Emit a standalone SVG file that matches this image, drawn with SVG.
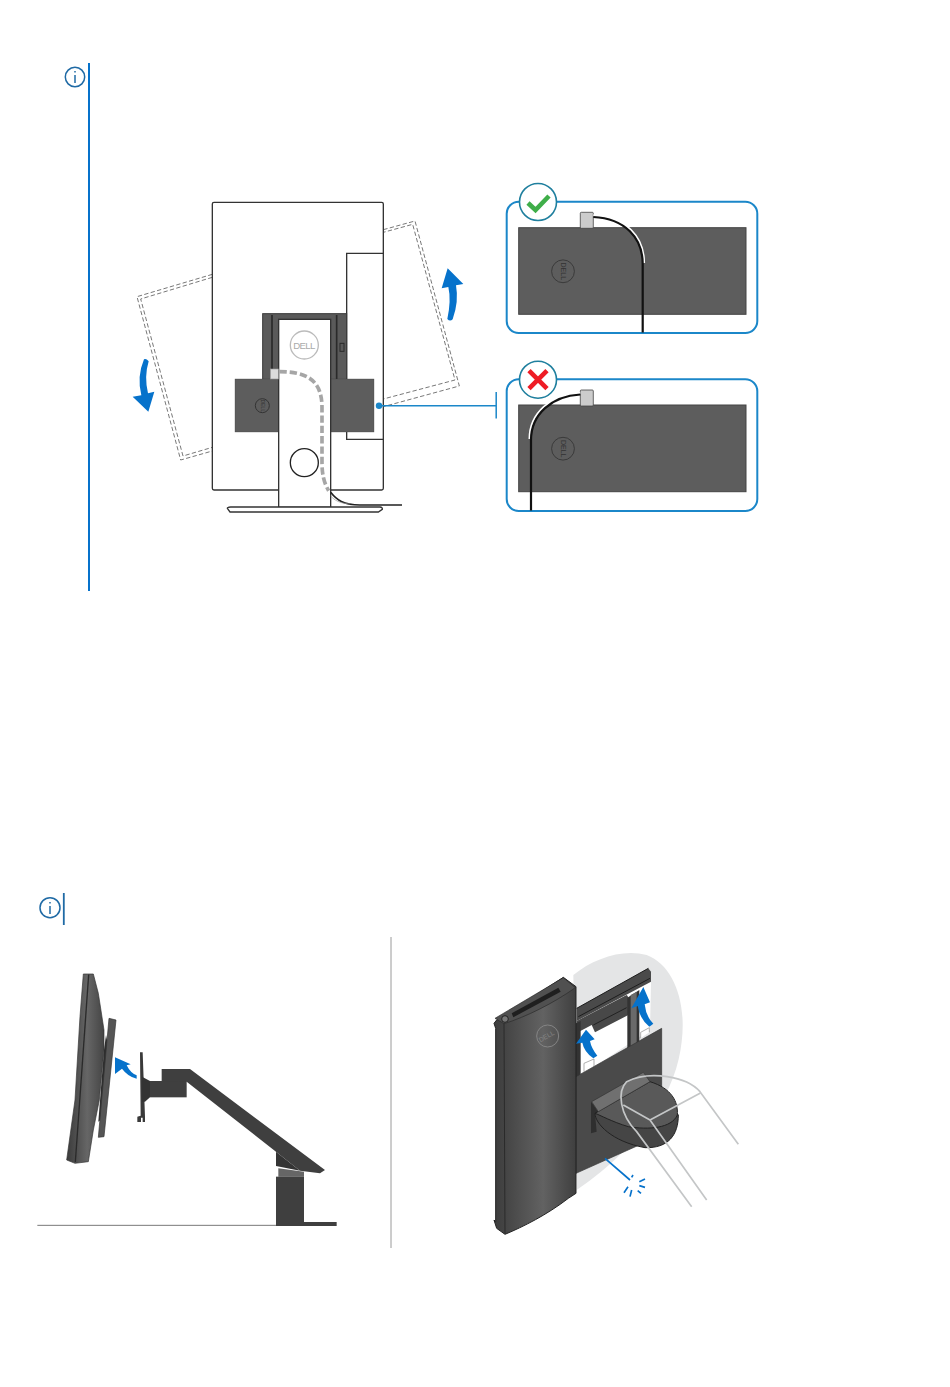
<svg xmlns="http://www.w3.org/2000/svg" width="950" height="1387" viewBox="0 0 950 1387">
<style>
.note{fill:none;stroke:#0672cb;stroke-width:2}
.ic{fill:none;stroke:#1f6aa5;stroke-width:1.5}
.dash{fill:none;stroke:#777;stroke-width:3;stroke-dasharray:13 7}
.out{fill:#fff;stroke:#333;stroke-width:4}
.dark{fill:#5d5d5d;stroke:#444;stroke-width:1}
.panel{fill:#fff;stroke:#1b87c9;stroke-width:2}
.plug{fill:#ccc;stroke:#444;stroke-width:.8}
.cw{fill:none;stroke:#fff;stroke-width:2.2}
.cb{fill:none;stroke:#111;stroke-width:2.2}
.blue{fill:#0672cb}
.bl{fill:none;stroke:#0672cb}
.logo{font-family:"Liberation Sans",Arial,sans-serif;font-weight:400;text-anchor:middle}
.ar{fill:#3f3f3f}
.hand{fill:none;stroke:#c4c6c7;stroke-width:5}
</style>
<defs>
<linearGradient id="mon" x1="0" x2="1" y1="0" y2="0"><stop offset="0" stop-color="#3b3b3b"/><stop offset=".55" stop-color="#666"/><stop offset="1" stop-color="#444"/></linearGradient>
<linearGradient id="pan" x1="0" x2="1" y1="0" y2="0"><stop offset="0" stop-color="#3c3c3c"/><stop offset=".6" stop-color="#626262"/><stop offset="1" stop-color="#3f3f3f"/></linearGradient>
</defs>

<g id="note1">
<line class="note" x1="89" y1="63" x2="89" y2="591"/>
<g class="ic"><circle cx="75" cy="77" r="9.7"/><line x1="75" y1="75" x2="75" y2="83"/><line x1="75" y1="71" x2="75" y2="72.6"/></g>
</g>
<g id="note2">
<line x1="63.8" y1="893" x2="63.8" y2="925" stroke="#1f6aa5" stroke-width="1.8"/>
<g class="ic"><circle cx="50" cy="907.7" r="10"/><line x1="50" y1="906" x2="50" y2="914"/><line x1="50" y1="902" x2="50" y2="903.6"/></g>
</g>

<g id="monitor-rear" transform="translate(120 180) scale(.33333)">
<path class="dash" d="M277 283 51 350 182 840 277 813"/>
<path class="dash" d="M277 292 62 357 189 828 277 802"/>
<path class="dash" d="M790 149 885 123 1018 618 790 680"/>
<path class="dash" d="M790 157 878 133 1005 600 790 657" stroke-dashoffset="6"/>
<rect class="out" x="277" y="67" width="513" height="863" rx="5"/>
<path d="M790 220H680V778H790" fill="none" stroke="#333" stroke-width="4"/>
<rect x="428" y="401" width="252" height="200" fill="#5a5a5a" stroke="#3a3a3a" stroke-width="3"/>
<path d="M456 405V598M650 405V598" stroke="#2a2a2a" stroke-width="5" fill="none"/>
<rect x="660" y="490" width="12" height="24" fill="none" stroke="#2a2a2a" stroke-width="3"/>
<rect class="dark" x="345" y="597" width="417" height="159" stroke-width="3"/>
<circle cx="427" cy="677" r="21" fill="none" stroke="#333" stroke-width="3"/>
<text class="logo" x="0" y="0" font-size="15" fill="#333" transform="translate(422 677) rotate(90)">DELL</text>
<rect class="out" x="476" y="418" width="156" height="564" stroke-width="4"/>
<circle cx="553" cy="495" r="42" fill="#fff" stroke="#bbb" stroke-width="4"/>
<text class="logo" x="553" y="506" font-size="29" fill="#aaa" textLength="66">DELL</text>
<circle cx="553" cy="848" r="42" fill="#fff" stroke="#222" stroke-width="4"/>
<rect x="451" y="567" width="24" height="30" fill="#ddd" stroke="#999" stroke-width="2"/>
<path d="M478 575C560 575 605 600 606 680V850Q606 900 626 932" fill="none" stroke="#a6a6a6" stroke-width="11" stroke-dasharray="22 9"/>
<path d="M632 937C650 960 670 975 720 975H846" fill="none" stroke="#222" stroke-width="5"/>
<path d="M632 948C650 968 670 970 690 972" fill="none" stroke="#999" stroke-width="2"/>
<path d="M322 985Q322 982 332 981H780Q788 982 787 988L775 996H330Z" fill="#fff" stroke="#333" stroke-width="4"/>
<path class="blue" d="M983 265 965 325 985 321Q994 360 982 417Q990 426 998 418Q1017 365 1008 316L1030 312Z"/>
<path class="blue" d="M72 538Q50 590 64 646L38 650 85 695 103 635 84 640Q72 590 86 544Q78 534 72 538Z"/>
</g>

<g id="callout">
<circle cx="379" cy="405.7" r="3.2" fill="#1b87c9"/>
<path d="M379 405.7H496M496.2 392V418.5" fill="none" stroke="#1b87c9" stroke-width="1.5"/>
</g>

<g id="panel-ok">
<rect class="panel" x="506.7" y="201.7" width="250.6" height="131.3" rx="12"/>
<rect class="dark" x="518.7" y="227.7" width="227.3" height="86.6"/>
<rect class="plug" x="580.3" y="212.3" width="13" height="16" rx="1"/>
<path class="cw" d="M593.3 215.400C626 217 644 237 644 263"/>
<path class="cb" d="M593.300 217C625 218.500 642.700 238 642.700 264V332.500"/>
<circle cx="563" cy="271.3" r="11.4" fill="none" stroke="#3a3a3a" stroke-width="1"/>
<text class="logo" font-size="7" fill="#333" transform="translate(560.6 271.3) rotate(90)">DELL</text>
<circle cx="538" cy="202" r="18.5" fill="#fff" stroke="#1f7f9e" stroke-width="1.6"/>
<path d="M528 203 535.500 210 549 196" fill="none" stroke="#3fae49" stroke-width="4.600"/>
</g>

<g id="panel-bad">
<rect class="panel" x="506.7" y="379.3" width="250.6" height="131.7" rx="12"/>
<rect class="dark" x="518.7" y="405" width="227.3" height="86.700"/>
<rect class="plug" x="580.3" y="390" width="13" height="16" rx="1"/>
<path class="cw" d="M580.300 392.800C551 394.500 529.600 413 529.600 439"/>
<path class="cb" d="M580.300 394.500C552 396 531 414 531 440V510.500"/>
<circle cx="563" cy="448.700" r="11.400" fill="none" stroke="#3a3a3a" stroke-width="1"/>
<text class="logo" font-size="7" fill="#333" transform="translate(560.600 448.700) rotate(90)">DELL</text>
<circle cx="538" cy="379.700" r="18.500" fill="#fff" stroke="#1f7f9e" stroke-width="1.600"/>
<path d="M529 370.700 547 388.700M547 370.700 529 388.700" fill="none" stroke="#ee1c25" stroke-width="4.600"/>
</g>

<line id="divider" x1="391" y1="937" x2="391" y2="1248" stroke="#9a9a9a" stroke-width="1"/>

<g id="arm-side" transform="translate(30 950) scale(.33333)">
<line x1="22" y1="826" x2="740" y2="826" stroke="#777" stroke-width="3"/>
<path d="M160 72H190L205 130 222 240V300L208 450 190 540 175 635 135 640 110 630 135 450 150 200Z" fill="url(#mon)" stroke="#333" stroke-width="2"/>
<path d="M176 74 136 636" stroke="#2a2a2a" stroke-width="4" fill="none"/>
<path d="M228 255 222 300 205 515 212 510 235 290Z" fill="#2e2e2e"/>
<path d="M237 205 258 210 222 560 205 562Z" fill="#555" stroke="#333" stroke-width="2"/>
<path d="M330 307H338L345 500V516H338V503L333 503V516H322V500L332 497Z" fill="#3a3a3a"/>
<path d="M336 380 360 393V442L345 455 336 455Z" fill="#333"/>
<rect class="ar" x="360" y="393" width="110" height="49"/>
<path class="ar" d="M395 357H480L885 660 870 670 810 662 738 605 470 395 395 393Z"/>
<path d="M738 605 810 662 738 648Z" fill="#343434"/>
<path d="M745 655 822 665V680H745Z" fill="#666"/>
<rect class="ar" x="738" y="680" width="84" height="148"/>
<rect class="ar" x="820" y="816" width="100" height="12"/>
<path class="blue" d="M255 322 255 372 276 356Q294 380 320 386V376Q302 370 290 346L302 343Z"/>
</g>

<g id="dock-mount" transform="translate(480 945) scale(.33333)">
<path d="M280 90C340 40 430 10 500 30 580 60 620 170 605 290 590 430 500 590 290 735Z" fill="#e4e5e6"/>
<path d="M290 190 505 70 513 110 510 255 290 400Z" fill="#fff"/>
<path d="M290 190 505 70 513 80V110L290 228Z" fill="#4a4a4a"/>
<path d="M290 190 505 70M295 215 510 100" stroke="#1c1c1c" stroke-width="3" fill="none"/>
<path d="M290 228 440 150Q450 155 445 210L345 262 335 240 290 264Z" fill="#484848"/>
<path d="M340 240 440 188" stroke="#222" stroke-width="3" fill="none"/>
<path d="M288 235 302 228V390L288 400ZM442 158 478 135V295L442 315Z" fill="#333"/>
<path d="M452 150 470 140V300L452 310Z" fill="#6a6a6a"/>
<path d="M312 380V355L342 342V365M482 280V262L508 248V262" fill="#fff" stroke="#888" stroke-width="2"/>
<path d="M288 395 545 250V570L288 685Z" fill="#4a4a4a" stroke="#333" stroke-width="2"/>
<path d="M333 470V565L350 560 345 505 355 500Z" fill="#2f2f2f"/>
<path d="M345 505C345 535 395 590 495 608 565 610 595 570 595 510L510 410Z" fill="#454545" stroke="#222" stroke-width="3"/>
<path d="M345 505 510 410C575 430 595 470 592 510 575 550 505 555 445 545 395 530 360 510 345 505Z" fill="#595959" stroke="#222" stroke-width="3"/>
<path d="M335 470 490 382 510 410 355 500Z" fill="#707070" stroke="#333" stroke-width="2"/>
<path d="M775 598 660 440C620 395 510 375 440 410 410 440 420 510 470 560L635 785M510 525 680 765M510 525 660 445M430 480 510 525" class="hand"/>
<path d="M42 235 50 225 250 97 288 125V745L265 760C200 810 130 845 75 868L50 850 42 825 47 830V250Z" fill="url(#pan)" stroke="#222" stroke-width="3"/>
<path d="M45 220 250 98 286 128C220 175 140 215 72 236Z" fill="#505050" stroke="#2a2a2a" stroke-width="2"/>
<path d="M95 205 235 128 242 140 100 217Z" fill="#1f1f1f"/>
<circle cx="75" cy="222" r="10" fill="#777" stroke="#222" stroke-width="3"/>
<path d="M72 236 75 866" stroke="#2a2a2a" stroke-width="3" fill="none"/>
<circle cx="203" cy="273" r="33" fill="none" stroke="#858585" stroke-width="3"/>
<text class="logo" font-size="20" fill="#858585" transform="translate(203 280) rotate(-30)">DELL</text>
<path class="blue" d="M318 254 288 296 307 293Q312 320 340 340L352 332Q334 310 330 288L344 283Z"/>
<path class="blue" d="M490 126 454 190 473 183Q478 220 508 245L520 236Q498 215 494 178L510 172Z"/>
<path class="bl" stroke-width="5" d="M375 640 450 705M455 697 459 690M478 710 495 702M478 722 495 727M473 737 483 745M455 735 450 755M444 725 432 743"/>
</g>
</svg>
